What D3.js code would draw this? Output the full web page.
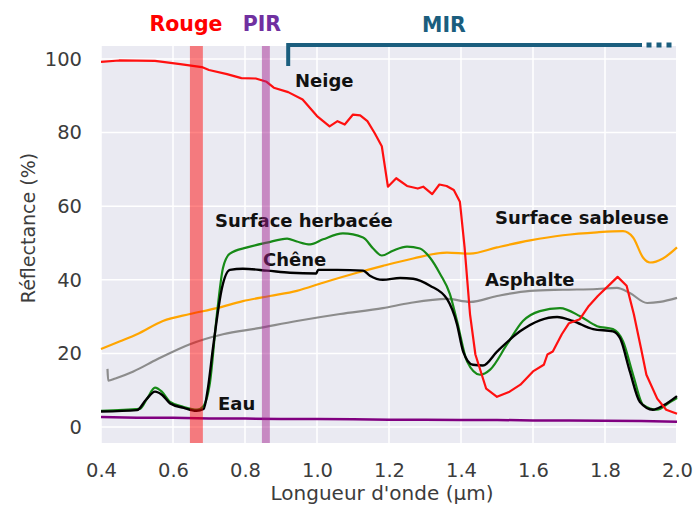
<html>
  <head>
    <script src="https://cdnjs.cloudflare.com/ajax/libs/d3/7.8.5/d3.min.js"></script>
    <style>
      body { margin: 0; background: #fff; }
      svg { display: block; font-family: "DejaVu Sans", sans-serif; }
      .lbl { font-weight: bold; font-size: 18px; fill: #111; }
    </style>
  </head>
  <body>
    <svg width="694" height="511"></svg>
    <script>
      // spectres de réflectance : [longueur d'onde (µm), réflectance (%)]
      const neige = [[0.40, 99.2], [0.45, 99.6], [0.55, 99.5], [0.62, 98.6], [0.68, 97.8], [0.70, 97.0],
        [0.75, 95.9], [0.79, 94.8], [0.83, 94.7], [0.86, 93.8], [0.88, 92.2], [0.92, 91.0], [0.96, 89.0],
        [1.00, 84.5], [1.035, 81.7], [1.057, 83.1], [1.077, 82.2], [1.10, 84.9], [1.12, 84.7], [1.14, 83.1],
        [1.16, 79.9], [1.18, 76.3], [1.197, 65.3], [1.22, 67.6], [1.25, 65.5], [1.28, 64.8], [1.295, 65.3],
        [1.32, 63.3], [1.34, 65.9], [1.36, 65.5], [1.38, 64.4], [1.397, 61.2], [1.41, 48.8], [1.425, 30.7],
        [1.44, 19.7], [1.47, 10.4], [1.50, 8.2], [1.535, 9.6], [1.565, 11.5], [1.60, 15.1], [1.63, 16.9],
        [1.64, 19.7], [1.655, 20.5], [1.68, 25.2], [1.70, 28.2], [1.73, 29.3], [1.755, 32.9], [1.78, 35.6],
        [1.815, 38.9], [1.835, 40.8], [1.86, 38.4], [1.88, 30.7], [1.90, 21.4], [1.915, 14.2], [1.945, 7.7],
        [1.97, 4.7], [2.00, 3.6]];
      const herbe = [[0.40, 4.4], [0.508, 4.9], [0.528, 7.7], [0.55, 10.7], [0.569, 9.6], [0.592, 6.8],
        [0.628, 5.5], [0.667, 4.7], [0.683, 5.5], [0.703, 12.3], [0.722, 30.7], [0.739, 43.3], [0.758, 47.1],
        [0.806, 48.8], [0.861, 50.1], [0.917, 51.2], [0.944, 50.4], [0.981, 49.6], [1.017, 51.0], [1.072, 52.6],
        [1.128, 51.5], [1.156, 48.5], [1.18, 46.6], [1.211, 47.9], [1.25, 49.0], [1.286, 48.5], [1.314, 46.0],
        [1.342, 41.6], [1.369, 36.2], [1.389, 28.8], [1.417, 17.8], [1.453, 14.2], [1.481, 15.6], [1.528, 22.5],
        [1.572, 28.8], [1.619, 31.5], [1.675, 32.3], [1.731, 30.1], [1.778, 27.4], [1.822, 26.6], [1.85, 23.3],
        [1.878, 14.2], [1.906, 6.0], [1.944, 4.7], [1.981, 6.8], [2.00, 7.9]];
      const chene = [[0.40, 4.2], [0.50, 4.6], [0.525, 7.4], [0.55, 9.6], [0.57, 8.7], [0.592, 6.4],
        [0.63, 5.2], [0.665, 4.4], [0.685, 4.9], [0.697, 10.5], [0.711, 21.4], [0.736, 37.8], [0.758, 42.7],
        [0.794, 43.0], [0.861, 42.5], [0.925, 41.9], [0.998, 41.7], [1.003, 42.7], [1.056, 42.7], [1.128, 42.5],
        [1.147, 41.1], [1.183, 40.0], [1.231, 40.5], [1.267, 40.3], [1.314, 38.4], [1.361, 34.8], [1.389, 27.9],
        [1.406, 20.5], [1.433, 16.9], [1.461, 16.7], [1.50, 20.5], [1.564, 26.0], [1.619, 29.0], [1.667, 29.9],
        [1.711, 28.8], [1.767, 26.6], [1.822, 26.0], [1.842, 24.1], [1.869, 15.1], [1.897, 6.8], [1.933, 4.7],
        [1.961, 5.8], [2.00, 8.4]];
      const sable = [[0.40, 21.2], [0.453, 23.3], [0.50, 25.2], [0.572, 28.8], [0.647, 30.7], [0.722, 32.3],
        [0.794, 34.2], [0.869, 35.6], [0.944, 37.0], [1.017, 39.2], [1.111, 41.9], [1.183, 43.8], [1.267, 45.8],
        [1.361, 47.4], [1.425, 47.1], [1.50, 48.8], [1.592, 50.7], [1.683, 52.1], [1.778, 52.9], [1.85, 53.2],
        [1.878, 51.5], [1.906, 46.0], [1.925, 44.7], [1.961, 45.8], [2.00, 48.8]];
      const asphalte = [[0.418, 15.8], [0.42, 12.6], [0.44, 13.2], [0.49, 15.1], [0.556, 18.4], [0.647, 22.5],
        [0.739, 25.2], [0.833, 26.8], [0.944, 28.8], [1.064, 30.7], [1.183, 32.3], [1.258, 33.7], [1.361, 34.8],
        [1.425, 34.0], [1.50, 35.6], [1.592, 37.0], [1.683, 37.3], [1.778, 37.5], [1.833, 37.8], [1.869, 36.4],
        [1.917, 33.7], [1.953, 34.0], [2.00, 35.1]];
      const eau = [[0.40, 2.7], [0.5, 2.5], [0.6, 2.5], [0.7, 2.3], [0.8, 2.3], [0.9, 2.2], [1.0, 2.2], [1.1, 2.1],
        [1.2, 2.0], [1.3, 2.0], [1.4, 1.9], [1.5, 1.9], [1.6, 1.8], [1.7, 1.8], [1.8, 1.7], [1.9, 1.6], [2.0, 1.4]];

      const xTicks = [0.4, 0.6, 0.8, 1.0, 1.2, 1.4, 1.6, 1.8, 2.0];
      const yTicks = [0, 20, 40, 60, 80, 100];
      const bandes = [{ nom: "Rouge", x0: 0.647, x1: 0.683, xt: 0.636, couleur: "#ff0000", texte: "#ff0000" },
                      { nom: "PIR", x0: 0.847, x1: 0.869, xt: 0.847, couleur: "#a0208f", texte: "#7030a0" }];

      const svg = d3.select("svg");
      const x = d3.scaleLinear().domain([0.4, 2.0]).range([101, 677]);
      const y = d3.scaleLinear().domain([0, 100]).range([427, 59]);
      const pTop = 46, pBottom = 443, pLeft = 101, pRight = 676;

      svg.append("rect").attr("x", pLeft).attr("y", pTop)
        .attr("width", pRight - pLeft).attr("height", pBottom - pTop).attr("fill", "#eaeaf2");

      const grid = svg.append("g").attr("stroke", "#fff").attr("stroke-width", 1.5);
      xTicks.forEach(t => grid.append("line").attr("x1", x(t)).attr("x2", x(t)).attr("y1", pTop).attr("y2", pBottom));
      yTicks.forEach(t => grid.append("line").attr("x1", pLeft).attr("x2", pRight).attr("y1", y(t)).attr("y2", y(t)));

      // axes (sans trait, seulement les étiquettes)
      const xAxis = svg.append("g").attr("transform", `translate(0,${pBottom})`)
        .call(d3.axisBottom(x).tickValues(xTicks).tickFormat(d3.format(".1f")).tickSize(0).tickPadding(20));
      const yAxis = svg.append("g").attr("transform", `translate(${pLeft},0)`)
        .call(d3.axisLeft(y).tickValues(yTicks).tickSize(0).tickPadding(19));
      [xAxis, yAxis].forEach(a => {
        a.select(".domain").remove();
        a.selectAll("text").attr("font-size", 19.5).attr("fill", "#3c3c3c").attr("font-family", "DejaVu Sans");
      });

      svg.append("text").attr("x", 382).attr("y", 500).attr("text-anchor", "middle")
        .attr("font-size", 20).attr("fill", "#3c3c3c").text("Longueur d'onde (µm)");
      svg.append("text").attr("transform", "translate(35,228) rotate(-90)").attr("text-anchor", "middle")
        .attr("font-size", 19).attr("fill", "#3c3c3c").text("Réflectance (%)");

      const line = d3.line().x(d => x(d[0])).y(d => y(d[1]));
      const smooth = d3.line().x(d => x(d[0])).y(d => y(d[1])).curve(d3.curveMonotoneX);
      const series = [
        { data: eau, color: "#800080", w: 2.5, gen: line },
        { data: asphalte, color: "#8c8c8c", w: 2.2, gen: smooth },
        { data: sable, color: "#ffa500", w: 2.2, gen: smooth },
        { data: herbe, color: "#178a17", w: 2.2, gen: smooth },
        { data: chene, color: "#000", w: 2.4, gen: smooth },
        { data: neige, color: "#ff1010", w: 2.2, gen: line }
      ];
      series.forEach(s => svg.append("path").attr("d", s.gen(s.data))
        .attr("fill", "none").attr("stroke", s.color).attr("stroke-width", s.w).attr("stroke-linejoin", "round"));

      const labels = [["Neige", 295, 87], ["Surface herbacée", 215, 227], ["Chêne", 263, 266],
        ["Eau", 218, 410], ["Surface sableuse", 495, 224], ["Asphalte", 485, 286]];
      labels.forEach(l => svg.append("text").attr("class", "lbl").attr("x", l[1]).attr("y", l[2]).text(l[0]));

      // bandes Rouge et PIR
      bandes.forEach(b => {
        svg.append("rect").attr("x", x(b.x0)).attr("y", pTop).attr("width", x(b.x1) - x(b.x0))
          .attr("height", pBottom - pTop).attr("fill", b.couleur).attr("opacity", 0.48);
        svg.append("text").attr("x", x(b.xt)).attr("y", 31).attr("text-anchor", "middle")
          .attr("font-size", 20.5).attr("font-weight", "bold").attr("fill", b.texte).text(b.nom);
      });

      // accolade MIR
      const mir = "#1b5e7e";
      svg.append("path").attr("d", `M${x(0.92)},66 V45 H642`).attr("fill", "none")
        .attr("stroke", mir).attr("stroke-width", 4);
      [649, 659, 669].forEach(cx => svg.append("rect").attr("x", cx - 2.5).attr("y", 42.5)
        .attr("width", 5).attr("height", 5).attr("fill", mir));
      svg.append("text").attr("x", 444).attr("y", 32).attr("text-anchor", "middle")
        .attr("font-size", 20.5).attr("font-weight", "bold").attr("fill", mir).text("MIR");
    </script>
  </body>
</html>
